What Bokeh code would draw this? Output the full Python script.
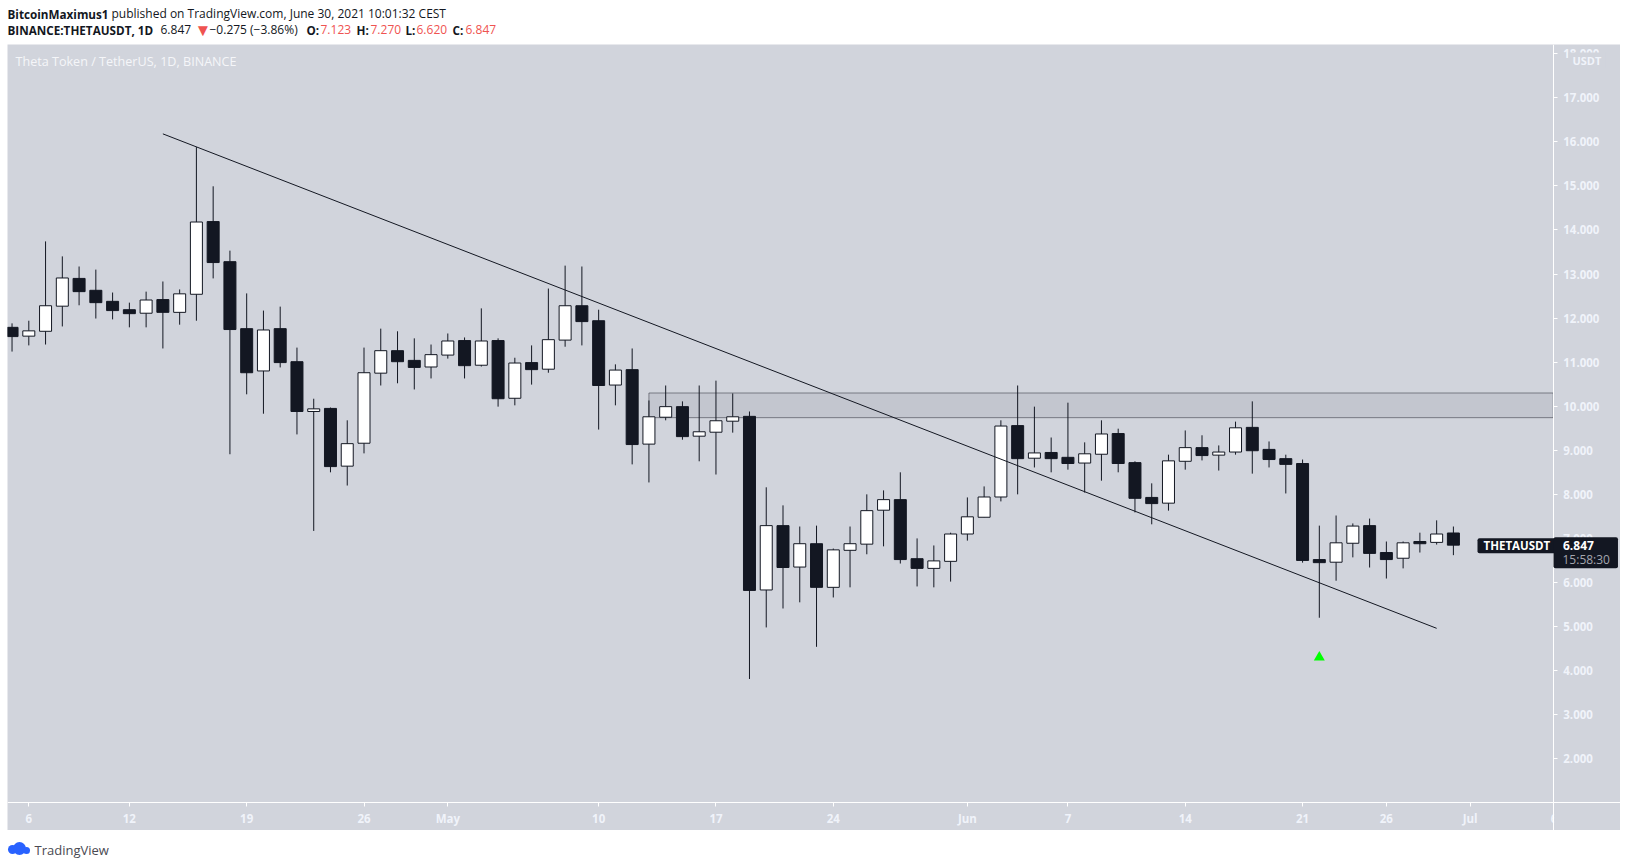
import pandas as pd
from bokeh.embed import file_html
from bokeh.resources import INLINE
from bokeh.plotting import figure
from bokeh.layouts import column
from bokeh.models import (ColumnDataSource, Label, LinearAxis, FixedTicker, Range1d,
                          BoxAnnotation, NumeralTickFormatter)

# ---------- data ----------
first_day = "2021-04-05"
last_day = "2021-06-30"
opens = [11.79, 11.59, 11.70, 12.27, 12.90, 12.63, 12.38, 12.19, 12.11, 12.42, 12.13, 12.54, 14.19, 13.28, 11.76, 10.80,
         11.76, 11.01, 9.88, 9.95, 8.64, 9.16, 10.75, 11.26, 11.04, 10.89,
         11.16, 11.49, 10.93, 11.49, 10.18, 10.99, 10.84, 11.50, 12.28, 11.94, 10.48, 10.83, 9.14, 9.75, 9.99, 9.32,
         9.41, 9.66, 9.77, 5.83, 7.29, 6.35, 6.88, 5.89, 6.73, 6.87, 7.64, 7.88, 6.54, 6.32, 6.48,
         7.10, 7.48, 7.94, 9.56, 8.82, 8.95, 8.84, 8.71, 8.91, 9.38, 8.72, 7.93, 7.80, 8.75, 9.06, 8.89, 8.96, 9.52,
         9.02, 8.81, 8.70, 6.52, 6.46, 6.89, 7.29, 6.68, 6.55, 6.93, 6.91, 7.123]
closes = [11.58, 11.71, 12.28, 12.91, 12.60, 12.35, 12.17, 12.10, 12.41, 12.13, 12.55, 14.18, 13.26, 11.74, 10.76, 11.73,
          10.99, 9.88, 9.94, 8.63, 9.15, 10.76, 11.26, 11.01, 10.88, 11.17,
          11.48, 10.92, 11.48, 10.17, 10.98, 10.83, 11.51, 12.28, 11.92, 10.47, 10.82, 9.13, 9.76, 9.99, 9.31, 9.42,
          9.67, 9.76, 5.82, 7.29, 6.34, 6.88, 5.89, 6.74, 6.88, 7.63, 7.88, 6.52, 6.32, 6.49, 7.10,
          7.49, 7.94, 9.55, 8.81, 8.94, 8.81, 8.70, 8.92, 9.37, 8.70, 7.91, 7.79, 8.76, 9.06, 8.88, 8.96, 9.51, 8.99,
          8.79, 8.68, 6.50, 6.45, 6.90, 7.28, 6.66, 6.52, 6.90, 6.88, 7.10, 6.847]
highs = [11.88, 11.94, 13.74, 13.40, 13.17, 13.10, 12.58, 12.35, 12.60, 12.83, 12.65, 15.88, 14.99, 13.53, 12.56, 12.17,
         12.26, 11.33, 10.17, 9.97, 9.68, 11.33, 11.76, 11.70, 11.54, 11.40,
         11.65, 11.56, 12.22, 11.54, 11.10, 11.38, 12.67, 13.19, 13.17, 12.19, 10.95, 11.31, 10.13, 10.47, 10.11, 10.47,
         10.58, 10.29, 9.88, 8.16, 7.75, 7.27, 7.29, 6.77, 7.27, 8.00, 8.09, 8.50, 7.00, 6.84, 7.13,
         7.93, 8.18, 9.68, 10.47, 9.99, 9.29, 10.08, 9.18, 9.68, 9.49, 8.75, 8.25, 8.90, 9.45, 9.34, 9.11, 9.65, 10.11,
         9.20, 8.90, 8.79, 7.29, 7.52, 7.34, 7.45, 6.93, 6.93, 7.13, 7.41, 7.27]
lows = [11.24, 11.38, 11.40, 11.81, 12.29, 11.99, 11.97, 11.79, 11.79, 11.31, 11.85, 11.94, 12.90, 8.91, 10.27, 9.83,
        10.88, 9.36, 7.17, 8.50, 8.20, 8.93, 10.47, 10.52, 10.38, 10.63,
        11.08, 10.63, 10.90, 9.99, 10.02, 10.49, 10.76, 11.35, 11.38, 9.47, 10.02, 8.68, 8.27, 9.68, 9.24, 8.75,
        8.45, 9.40, 3.81, 4.98, 5.41, 5.55, 4.54, 5.66, 5.89, 6.64, 6.82, 6.43, 5.91, 5.89, 6.02,
        6.95, 7.48, 7.84, 8.00, 8.61, 8.50, 8.56, 8.04, 8.31, 8.50, 7.59, 7.32, 7.63, 8.56, 8.77, 8.54, 8.90, 8.47,
        8.61, 8.02, 6.45, 5.20, 6.04, 6.57, 6.34, 6.09, 6.32, 6.68, 6.86, 6.62]

trend_dates = ["2021-04-14", "2021-06-29"]
trend_prices = [16.18, 4.96]
zone_start = "2021-05-13"
zone_top = 10.30
zone_bottom = 9.74
signal_date = "2021-06-22"
signal_price = 4.30
last_price = 6.847

price_ticks = [2, 3, 4, 5, 6, 7, 8, 9, 10, 11, 12, 13, 14, 15, 16, 17, 18]
time_tick_dates = ["2021-04-06", "2021-04-12", "2021-04-19", "2021-04-26", "2021-05-01", "2021-05-10", "2021-05-17",
                   "2021-05-24", "2021-06-01", "2021-06-07", "2021-06-14", "2021-06-21", "2021-06-26", "2021-07-01",
                   "2021-07-06"]
time_tick_labels = ["6", "12", "19", "26", "May", "10", "17", "24", "Jun", "7", "14", "21", "26", "Jul", "6"]

# ---------- styling ----------
PANEL = "#d1d4dc"
INK = "#131722"
RED = "#ef5350"
AXTXT = "#f0f3fa"
FONT = "Open Sans"
FULL_W = 1613
X_AXIS_END = 90.96      # day position of the price axis
Y_AXIS_LEVEL = 1.0      # price level of the time axis
origin = pd.Timestamp("2021-04-06")
def day(s):
    return (pd.Timestamp(s) - origin).days

x = [day(d) for d in pd.date_range(first_day, last_day)]
up = [c >= o for o, c in zip(opens, closes)]
src = ColumnDataSource(dict(
    x=x, o=opens, c=closes, h=highs, l=lows,
    top=[max(a, b) for a, b in zip(opens, closes)],
    bottom=[min(a, b) for a, b in zip(opens, closes)],
    fill=["#ffffff" if u else INK for u in up],
))

def bare(h, margin):
    f = figure(width=FULL_W, height=h, x_range=(0, FULL_W), y_range=(0, h), output_backend="svg",
               toolbar_location=None, x_axis_location=None, y_axis_location=None,
               min_border=0, margin=margin, border_fill_color="#ffffff", background_fill_color="#ffffff")
    f.outline_line_color = None
    f.grid.visible = False
    return f

def put(f, px, py, text, color=INK, size="12px", style="normal", align="left", **kw):
    f.add_layout(Label(x=px, y=py, x_units="screen", y_units="screen", text=text, text_color=color,
                       text_font=FONT, text_font_size=size, text_font_style=style,
                       text_align=align, text_baseline="middle", **kw))

# ---------- header ----------
head = bare(44, (0, 0, 0, 7))
B = "11.7px"
put(head, 0, 31, "BitcoinMaximus1", style="bold", size=B)
put(head, 104, 31, "published on TradingView.com, June 30, 2021 10:01:32 CEST")
put(head, 0, 15, "BINANCE:THETAUSDT, 1D", style="bold", size=B)
put(head, 153, 15, "6.847")
put(head, 187, 15, "\u25BC", color=RED, size="17px")
put(head, 202, 15, "\u22120.275 (\u22123.86%)")
put(head, 299, 15, "O:", style="bold", size=B)
put(head, 313, 15, "7.123", color=RED)
put(head, 349, 15, "H:", style="bold", size=B)
put(head, 363, 15, "7.270", color=RED)
put(head, 398, 15, "L:", style="bold", size=B)
put(head, 409, 15, "6.620", color=RED)
put(head, 445, 15, "C:", style="bold", size=B)
put(head, 458, 15, "6.847", color=RED)

# ---------- chart ----------
p = figure(width=FULL_W, height=786, x_range=Range1d(-1.271, 94.97), y_range=Range1d(0.372, 18.208),
           output_backend="svg", toolbar_location=None, x_axis_location=None, y_axis_location=None,
           min_border=0, margin=(0, 0, 0, 7), background_fill_color=PANEL, border_fill_color=PANEL)
p.outline_line_color = None
p.grid.visible = False

p.quad(left=[day(zone_start)], right=[X_AXIS_END], top=[zone_top], bottom=[zone_bottom],
       fill_color="#787b86", fill_alpha=0.15, line_color=INK, line_alpha=0.45, line_width=1)
p.segment("x", "l", "x", "h", source=src, line_color=INK, line_width=1)
p.vbar(x="x", width=0.716, top="top", bottom="bottom", source=src, fill_color="fill", line_color=INK, line_width=1)
p.line([day(d) for d in trend_dates], trend_prices, line_color=INK, line_width=1)
p.scatter([day(signal_date)], [signal_price], marker="triangle", size=11, fill_color="#00ff00", line_color=None)

yax = LinearAxis(ticker=FixedTicker(ticks=price_ticks), formatter=NumeralTickFormatter(format="0.000"),
                 fixed_location=X_AXIS_END)
xax = LinearAxis(ticker=FixedTicker(ticks=[day(d) for d in time_tick_dates]),
                 major_label_overrides=dict(zip([day(d) for d in time_tick_dates], time_tick_labels)),
                 fixed_location=Y_AXIS_LEVEL)
for ax, standoff, side in ((yax, 6, "right"), (xax, 4, "below")):
    ax.axis_line_color = "#ffffff"
    ax.major_tick_line_color = "#ffffff"
    ax.major_tick_out = 4
    ax.major_tick_in = 0
    ax.minor_tick_out = 0
    ax.minor_tick_in = 0
    ax.major_label_standoff = standoff
    ax.major_label_text_color = AXTXT
    ax.major_label_text_font = FONT
    ax.major_label_text_font_size = "11.5px"
    ax.major_label_text_font_style = "bold"
    p.add_layout(ax, side)

# the last time label is half hidden behind the price scale
p.add_layout(BoxAnnotation(left=1546.6, right=1560, top=23, bottom=0, left_units="screen", right_units="screen",
                           top_units="screen", bottom_units="screen", fill_color=PANEL, fill_alpha=1, line_color=None))

put(p, 8, 769.5, "Theta Token / TetherUS, 1D, BINANCE", color="#f5f6f9", size="12.6px")
put(p, 1561, 770.5, "USDT", color=AXTXT, size="11px", style="bold", background_fill_color=PANEL, padding=(4, 4, 0, 0))

# last-price tags (padding order here is left, right, top, bottom)
def tag(px, text, color, pad=None, style="normal", size="12px", dy=0, bg=INK):
    p.add_layout(Label(x=px, y=last_price, x_units="screen", y_units="data", y_offset=dy, text=text, text_color=color,
                       text_font=FONT, text_font_size=size, text_font_style=style, text_align="left",
                       text_baseline="middle", background_fill_color=bg, padding=pad or (0, 0, 0, 0), border_radius=2))
tag(1470, "THETAUSDT", "#ffffff", (6, 7, 0, 0), size="11.5px", style="bold", dy=-0.5)
tag(1546, "15:58:30", "#a3a6af", (9, 8, 14, 0), dy=-7.5)
tag(1555.5, "6.847", "#ffffff", style="bold", bg=None)

# ---------- footer ----------
foot = bare(30, (0, 0, 0, 7))
foot.scatter([5, 12, 19], [11, 12, 10], marker="circle", size=[9, 13, 7], fill_color="#2962ff", line_color=None)
put(foot, 27, 11, "TradingView", color="#4a4a52", size="13px")

layout = column(head, p, foot, spacing=0)
open("out.html", "w").write(file_html(layout, INLINE))
